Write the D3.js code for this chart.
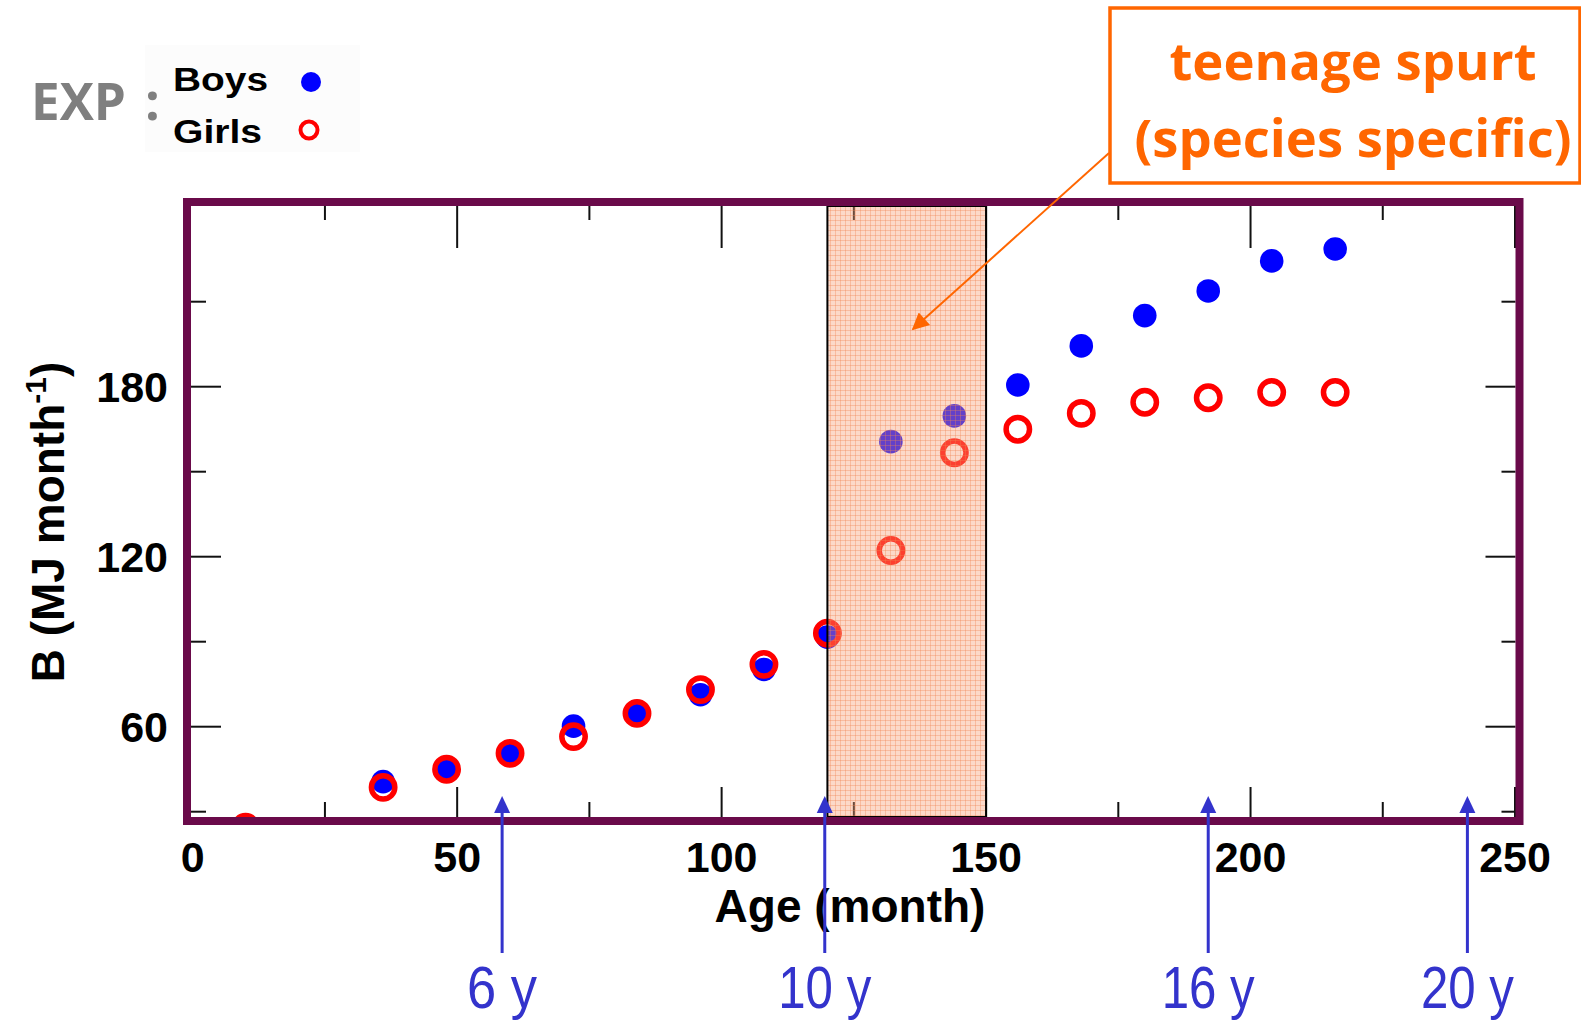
<!DOCTYPE html>
<html>
<head>
<meta charset="utf-8">
<script src="https://cdn.jsdelivr.net/npm/d3@7"></script>
<style>
  html, body { margin: 0; padding: 0; background: #fff; }
</style>
</head>
<body>
<div id="chart"></div>
<script>
// Data
const ages = [36, 48, 60, 72, 84, 96, 108, 120, 132, 144, 156, 168, 180, 192, 204, 216];
const boys = [40.6, 45.0, 50.6, 60.2, 64.9, 71.3, 80.2, 91.6, 160.6, 169.7, 180.6, 194.4, 205.1, 213.8, 224.4, 228.6];
const girls = [38.6, 45.0, 50.6, 56.5, 64.7, 73.1, 82.0, 93.0, 122.2, 156.7, 165.0, 170.6, 174.5, 176.1, 178.0, 178.0];
// first measurement, mostly hidden under the bottom frame
const firstAge = 10;
const firstBoys = 24;
const firstGirls = 24.5;

const xTicks = [0, 50, 100, 150, 200, 250];
const xMinor = [25, 75, 125, 175, 225];
const yTicks = [60, 120, 180];
const yMinor = [30, 90, 150, 210];

const spurt = [120, 150];
const arrowAges = [58.5, 119.5, 192, 241];
const arrowLabels = ["6 y", "10 y", "16 y", "20 y"];

const W = 1581, H = 1021;
const frame = { left: 187, top: 202, right: 1519.5, bottom: 821, stroke: 8 };
const purple = "#6a0a4a";
const orange = "#ff6600";
const arrowBlue = "#3333cc";

const svg = d3.select("#chart")
  .append("svg")
  .attr("width", W)
  .attr("height", H);

const x = d3.scaleLinear().domain([0, 250]).range([192.7, 1515]);
const y = d3.scaleLinear().domain([60, 180]).range([726.7, 386.7]);

const inner = {
  left: frame.left + frame.stroke / 2,
  right: frame.right - frame.stroke / 2,
  top: frame.top + frame.stroke / 2,
  bottom: frame.bottom - frame.stroke / 2
};

const defs = svg.append("defs");
defs.append("clipPath").attr("id", "plotclip")
  .append("rect")
  .attr("x", inner.left).attr("y", inner.top)
  .attr("width", inner.right - inner.left)
  .attr("height", inner.bottom - inner.top);

// fine grid pattern for the shaded band
const pat = defs.append("pattern")
  .attr("id", "grid")
  .attr("width", 5).attr("height", 5)
  .attr("patternUnits", "userSpaceOnUse");
pat.append("rect").attr("width", 5).attr("height", 5).attr("fill", "rgba(247,160,120,0.4)");
pat.append("path").attr("d", "M0,0.5H5M0.5,0V5")
  .attr("stroke", "rgba(240,130,80,0.35)").attr("stroke-width", 1);

defs.append("marker")
  .attr("id", "orangehead")
  .attr("viewBox", "0 0 10 10")
  .attr("refX", 9).attr("refY", 5)
  .attr("markerWidth", 22).attr("markerHeight", 17)
  .attr("markerUnits", "userSpaceOnUse")
  .attr("orient", "auto")
  .append("path").attr("d", "M0,0L10,5L0,10Z").attr("fill", orange);

// ---------------------- Legend ----------------------
svg.append("rect")
  .attr("x", 145).attr("y", 45).attr("width", 215).attr("height", 107)
  .attr("fill", "#fcfcfc");

svg.append("text")
  .attr("x", 31).attr("y", 120)
  .attr("font-family", "'Open Sans', sans-serif")
  .attr("font-weight", "bold")
  .attr("font-size", "52px")
  .attr("fill", "#7f7f7f")
  .attr("textLength", 95)
  .attr("lengthAdjust", "spacingAndGlyphs")
  .text("EXP");
svg.append("text")
  .attr("x", 145).attr("y", 120)
  .attr("font-family", "'Open Sans', sans-serif")
  .attr("font-weight", "bold")
  .attr("font-size", "52px")
  .attr("fill", "#7f7f7f")
  .text(":");

svg.append("text")
  .attr("x", 173).attr("y", 91)
  .attr("font-family", "'Liberation Sans', Arial, sans-serif")
  .attr("font-weight", "bold")
  .attr("font-size", "34px")
  .attr("textLength", 95)
  .attr("lengthAdjust", "spacingAndGlyphs")
  .text("Boys");
svg.append("text")
  .attr("x", 173).attr("y", 143)
  .attr("font-family", "'Liberation Sans', Arial, sans-serif")
  .attr("font-weight", "bold")
  .attr("font-size", "34px")
  .attr("textLength", 89)
  .attr("lengthAdjust", "spacingAndGlyphs")
  .text("Girls");
svg.append("circle").attr("cx", 311).attr("cy", 82).attr("r", 10).attr("fill", "#0000ff");
svg.append("circle").attr("cx", 309).attr("cy", 130).attr("r", 8.5)
  .attr("fill", "none").attr("stroke", "#ff0000").attr("stroke-width", 4);

// ---------------------- Points ----------------------
const plot = svg.append("g").attr("clip-path", "url(#plotclip)");

const boysData = [[firstAge, firstBoys]].concat(ages.map((a, i) => [a, boys[i]]));
const girlsData = [[firstAge, firstGirls]].concat(ages.map((a, i) => [a, girls[i]]));

plot.selectAll("circle.boys")
  .data(boysData)
  .enter()
  .append("circle")
  .attr("class", "boys")
  .attr("cx", d => x(d[0]))
  .attr("cy", d => y(d[1]))
  .attr("r", 11.8)
  .attr("fill", "#0000ff");

plot.selectAll("circle.girls")
  .data(girlsData)
  .enter()
  .append("circle")
  .attr("class", "girls")
  .attr("cx", d => x(d[0]))
  .attr("cy", d => y(d[1]))
  .attr("r", 11.7)
  .attr("fill", "none")
  .attr("stroke", "#ff0000")
  .attr("stroke-width", 5.5);

// ---------------------- Ticks (inside, on all four sides) ----------------------
const ticks = svg.append("g").attr("stroke", "#111").attr("stroke-width", 2);

// the 0 tick sits under the left frame, skip it
xTicks.concat(xMinor).filter(v => v > 0).forEach(v => {
  const major = xTicks.includes(v);
  ticks.append("line")
    .attr("x1", x(v)).attr("x2", x(v))
    .attr("y1", inner.bottom).attr("y2", inner.bottom - (major ? 30 : 15));
  ticks.append("line")
    .attr("x1", x(v)).attr("x2", x(v))
    .attr("y1", inner.top).attr("y2", inner.top + (major ? 42 : 14));
});

yTicks.concat(yMinor).forEach(v => {
  const major = yTicks.includes(v);
  ticks.append("line")
    .attr("x1", inner.left).attr("x2", inner.left + (major ? 30 : 15))
    .attr("y1", y(v)).attr("y2", y(v));
  ticks.append("line")
    .attr("x1", inner.right).attr("x2", inner.right - (major ? 30 : 14))
    .attr("y1", y(v)).attr("y2", y(v));
});

// ---------------------- Teenage spurt band ----------------------
svg.append("rect")
  .attr("x", x(spurt[0]))
  .attr("y", inner.top)
  .attr("width", x(spurt[1]) - x(spurt[0]))
  .attr("height", inner.bottom - inner.top)
  .attr("fill", "url(#grid)")
  .attr("stroke", "#000")
  .attr("stroke-width", 2);

// Frame
svg.append("rect")
  .attr("x", frame.left).attr("y", frame.top)
  .attr("width", frame.right - frame.left)
  .attr("height", frame.bottom - frame.top)
  .attr("fill", "none")
  .attr("stroke", purple)
  .attr("stroke-width", frame.stroke);

// ---------------------- Tick labels and axis titles ----------------------
svg.selectAll("text.xtick")
  .data(xTicks)
  .enter()
  .append("text")
  .attr("class", "xtick")
  .attr("x", d => x(d))
  .attr("y", 872)
  .attr("text-anchor", "middle")
  .attr("font-family", "'Liberation Sans', Arial, sans-serif")
  .attr("font-weight", "bold")
  .attr("font-size", "43px")
  .text(d => d);

svg.selectAll("text.ytick")
  .data(yTicks)
  .enter()
  .append("text")
  .attr("class", "ytick")
  .attr("x", 168)
  .attr("y", d => y(d))
  .attr("dy", "0.36em")
  .attr("text-anchor", "end")
  .attr("font-family", "'Liberation Sans', Arial, sans-serif")
  .attr("font-weight", "bold")
  .attr("font-size", "43px")
  .text(d => d);

svg.append("text")
  .attr("x", 850).attr("y", 922)
  .attr("text-anchor", "middle")
  .attr("font-family", "'Liberation Sans', Arial, sans-serif")
  .attr("font-weight", "bold")
  .attr("font-size", "46px")
  .text("Age (month)");

const ylab = svg.append("text")
  .attr("transform", "translate(64,522) rotate(-90)")
  .attr("text-anchor", "middle")
  .attr("font-family", "'Liberation Sans', Arial, sans-serif")
  .attr("font-weight", "bold")
  .attr("font-size", "46px");
ylab.append("tspan").text("B (MJ month");
ylab.append("tspan").attr("font-size", "30px").attr("dy", -18).text("-1");
ylab.append("tspan").attr("dy", 18).text(")");

// ---------------------- Age arrows ----------------------
const arrows = svg.append("g");
arrowAges.forEach((a, i) => {
  const ax = x(a);
  arrows.append("line")
    .attr("x1", ax).attr("x2", ax)
    .attr("y1", 953).attr("y2", 810)
    .attr("stroke", arrowBlue).attr("stroke-width", 3);
  arrows.append("path")
    .attr("d", `M${ax},796L${ax - 8},813L${ax + 8},813Z`)
    .attr("fill", arrowBlue);
  arrows.append("text")
    .attr("x", ax).attr("y", 1008)
    .attr("text-anchor", "middle")
    .attr("font-family", "'Liberation Sans Narrow', 'Liberation Sans', Arial, sans-serif")
    .attr("font-size", "60px")
    .attr("fill", arrowBlue)
    .attr("textLength", arrowLabels[i].length > 3 ? 93 : 70)
    .attr("lengthAdjust", "spacingAndGlyphs")
    .text(arrowLabels[i]);
});

// ---------------------- Annotation box ----------------------
svg.append("line")
  .attr("x1", 1109).attr("y1", 153)
  .attr("x2", 913).attr("y2", 329)
  .attr("stroke", orange)
  .attr("stroke-width", 2)
  .attr("marker-end", "url(#orangehead)");

svg.append("rect")
  .attr("x", 1110).attr("y", 8)
  .attr("width", 470).attr("height", 175)
  .attr("fill", "#fff")
  .attr("stroke", orange)
  .attr("stroke-width", 3.5);

svg.append("text")
  .attr("x", 1353).attr("y", 80)
  .attr("text-anchor", "middle")
  .attr("font-family", "'Open Sans', sans-serif")
  .attr("font-weight", "bold")
  .attr("font-size", "52px")
  .attr("fill", orange)
  .attr("textLength", 367)
  .attr("lengthAdjust", "spacingAndGlyphs")
  .text("teenage spurt");
svg.append("text")
  .attr("x", 1353).attr("y", 157)
  .attr("text-anchor", "middle")
  .attr("font-family", "'Open Sans', sans-serif")
  .attr("font-weight", "bold")
  .attr("font-size", "52px")
  .attr("fill", orange)
  .attr("textLength", 437)
  .attr("lengthAdjust", "spacingAndGlyphs")
  .text("(species specific)");
</script>
</body>
</html>
